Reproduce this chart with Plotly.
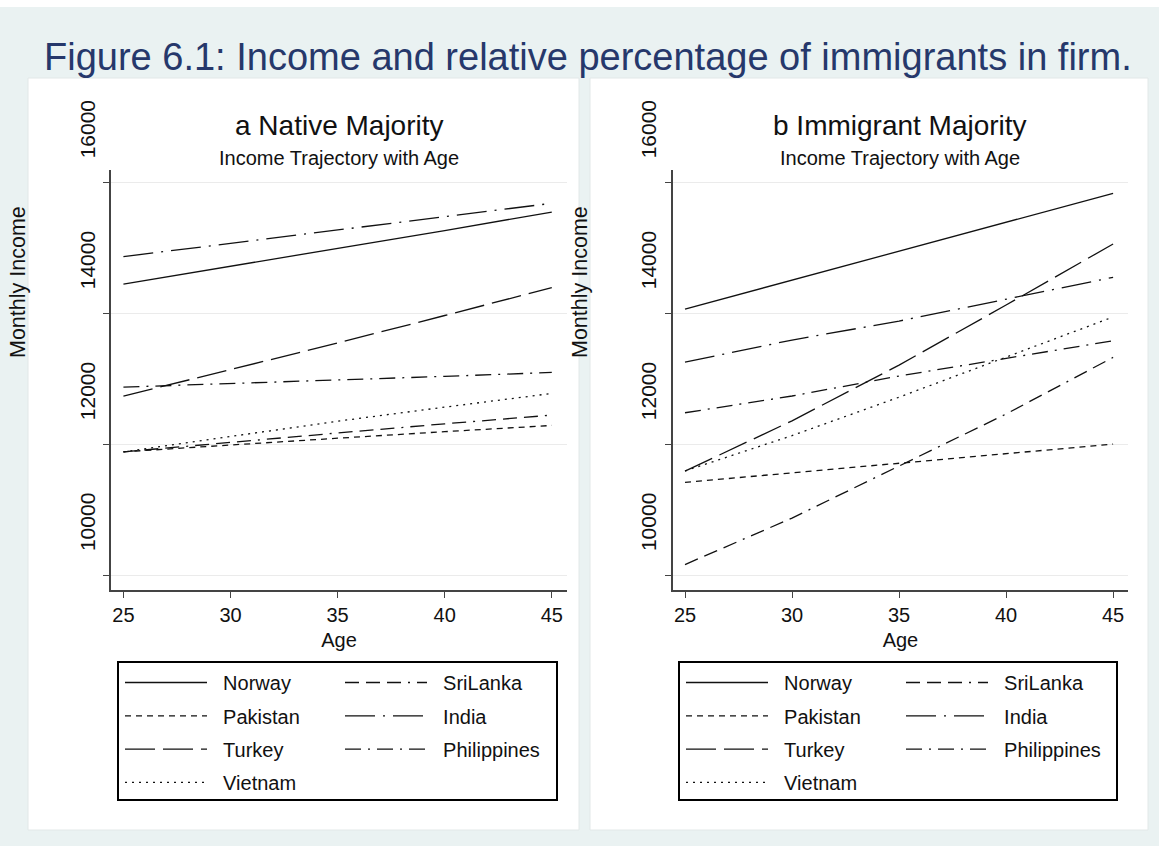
import plotly.graph_objects as go

W, H = 1159, 846

ages = [25, 30, 35, 40, 45]
x_ticks = [25, 30, 35, 40, 45]
y_ticks = [10000, 12000, 14000, 16000]
y_tick_labels = ["10000", "12000", "14000", "16000"]

countries_col1 = ["Norway", "Pakistan", "Turkey", "Vietnam"]
countries_col2 = ["SriLanka", "India", "Philippines"]

# Panel a: Native Majority
native_norway = [14446, 14715, 14985, 15262, 15546]
native_pakistan = [11882, 11990, 12090, 12190, 12285]
native_turkey = [12733, 13140, 13545, 13965, 14390]
native_vietnam = [11882, 12120, 12350, 12565, 12774]
native_srilanka = [11882, 12030, 12170, 12310, 12443]
native_india = [14864, 15068, 15272, 15475, 15679]
native_philippines = [12871, 12925, 12975, 13035, 13095]

# Panel b: Immigrant Majority
immig_norway = [14063, 14505, 14948, 15390, 15832]
immig_pakistan = [11415, 11560, 11715, 11860, 12000]
immig_turkey = [11587, 12356, 13207, 14125, 15057]
immig_vietnam = [11590, 12130, 12717, 13327, 13942]
immig_srilanka = [10160, 10870, 11665, 12460, 13325]
immig_india = [13253, 13590, 13880, 14210, 14548]
immig_philippines = [12479, 12735, 13040, 13310, 13579]

native = {"Norway": native_norway, "Pakistan": native_pakistan, "Turkey": native_turkey,
          "Vietnam": native_vietnam, "SriLanka": native_srilanka, "India": native_india,
          "Philippines": native_philippines}
immig = {"Norway": immig_norway, "Pakistan": immig_pakistan, "Turkey": immig_turkey,
         "Vietnam": immig_vietnam, "SriLanka": immig_srilanka, "India": immig_india,
         "Philippines": immig_philippines}

dashes = {
    "Norway": "solid",
    "Pakistan": "6px,5px",
    "Turkey": "30px,8px",
    "Vietnam": "2px,5px",
    "SriLanka": "14px,7px,14px,7px,14px,7px,2px,7px",
    "India": "30px,8px,2px,8px",
    "Philippines": "16px,7px,2px,7px",
}

FONT = "Liberation Sans, Arial, sans-serif"
LINE_COLOR = "#111111"
PAD = "\u00a0\u00a0"

def px(x):
    return x / W

def py(y):
    return 1 - y / H

fig = go.Figure()

for panel, data, xa, ya, legs in [("a", native, "x", "y", ("legend", "legend2")),
                                  ("b", immig, "x2", "y2", ("legend3", "legend4"))]:
    for c in countries_col1 + countries_col2:
        leg = legs[0] if c in countries_col1 else legs[1]
        fig.add_trace(go.Scatter(
            x=ages, y=data[c], mode="lines", name=PAD + c,
            line=dict(color=LINE_COLOR, width=1.3, dash=dashes[c]),
            xaxis=xa, yaxis=ya, legend=leg, legendgroup=panel + c,
            showlegend=True, hovertemplate=c + ": %{y}<extra></extra>",
        ))

xrange = [24.42, 45.71]
yrange = [9771, 16188]
ydom = [py(590), py(170)]

axis_common = dict(showline=True, linecolor="#444444", linewidth=1.5, ticks="outside",
                   ticklen=6, tickcolor="#444444", zeroline=False, automargin=False)
xfont = dict(family=FONT, size=20, color="#111111")
yfont = dict(family=FONT, size=21, color="#111111")

fig.update_layout(
    width=W, height=H,
    margin=dict(l=0, r=0, t=0, b=0, autoexpand=False),
    paper_bgcolor="#EAF2F2",
    plot_bgcolor="#FFFFFF",
    font=dict(family=FONT, size=20, color="#111111"),
    xaxis=dict(domain=[px(111), px(567)], range=xrange, tickvals=x_ticks, showgrid=False,
               anchor="y", tickfont=xfont,
               title=dict(text="Age", font=dict(size=20), standoff=8), **axis_common),
    yaxis=dict(domain=ydom, range=yrange, tickvals=y_ticks, ticktext=y_tick_labels,
               tickangle=-90, ticklabelshift=-50, showgrid=True, gridcolor="#EBEBEB",
               anchor="x", tickfont=yfont, **axis_common),
    xaxis2=dict(domain=[px(672.6), px(1128.3)], range=xrange, tickvals=x_ticks, showgrid=False,
                anchor="y2", tickfont=xfont,
                title=dict(text="Age", font=dict(size=20), standoff=8), **axis_common),
    yaxis2=dict(domain=ydom, range=yrange, tickvals=y_ticks, ticktext=y_tick_labels,
                tickangle=-90, ticklabelshift=-50, showgrid=True, gridcolor="#EBEBEB",
                anchor="x2", tickfont=yfont, **axis_common),
    showlegend=True,
)

leg_common = dict(bgcolor="rgba(0,0,0,0)", borderwidth=0, font=dict(family=FONT, size=20, color="#111111"),
                  itemwidth=82, tracegroupgap=4.3, traceorder="grouped", orientation="v",
                  xanchor="left", yanchor="top", itemclick=False, itemdoubleclick=False)
fig.update_layout(
    legend=dict(x=px(120), y=py(663), **leg_common),
    legend2=dict(x=px(340), y=py(663), **leg_common),
    legend3=dict(x=px(681), y=py(663), **leg_common),
    legend4=dict(x=px(901), y=py(663), **leg_common),
)

shapes = [
    dict(type="rect", xref="paper", yref="paper", x0=0, x1=1, y0=py(7), y1=1,
         fillcolor="#FFFFFF", line=dict(width=0), layer="below"),
    dict(type="rect", xref="paper", yref="paper", x0=px(28), x1=px(579), y0=py(830), y1=py(78),
         fillcolor="#FFFFFF", line=dict(color="#E2E8E8", width=1), layer="below"),
    dict(type="rect", xref="paper", yref="paper", x0=px(590), x1=px(1148), y0=py(830), y1=py(78),
         fillcolor="#FFFFFF", line=dict(color="#E2E8E8", width=1), layer="below"),
    dict(type="rect", xref="paper", yref="paper", x0=px(118), x1=px(557), y0=py(800), y1=py(662),
         fillcolor="rgba(0,0,0,0)", line=dict(color="#000000", width=2)),
    dict(type="rect", xref="paper", yref="paper", x0=px(679), x1=px(1117), y0=py(800), y1=py(662),
         fillcolor="rgba(0,0,0,0)", line=dict(color="#000000", width=2)),
]
fig.update_layout(shapes=shapes)

annotations = [
    dict(text="Figure 6.1: Income and relative percentage of immigrants in firm.",
         x=px(588), y=py(57), xref="paper", yref="paper", xanchor="center", yanchor="middle",
         showarrow=False, font=dict(family=FONT, size=38, color="#26386B")),
    dict(text="a Native Majority", x=px(339), y=py(125), xref="paper", yref="paper",
         xanchor="center", yanchor="middle", showarrow=False, font=dict(family=FONT, size=28)),
    dict(text="Income Trajectory with Age", x=px(339), y=py(158), xref="paper", yref="paper",
         xanchor="center", yanchor="middle", showarrow=False, font=dict(family=FONT, size=20)),
    dict(text="b Immigrant Majority", x=px(900), y=py(125), xref="paper", yref="paper",
         xanchor="center", yanchor="middle", showarrow=False, font=dict(family=FONT, size=28)),
    dict(text="Income Trajectory with Age", x=px(900), y=py(158), xref="paper", yref="paper",
         xanchor="center", yanchor="middle", showarrow=False, font=dict(family=FONT, size=20)),
    dict(text="Monthly Income", x=px(18), y=py(282), xref="paper", yref="paper", textangle=-90,
         xanchor="center", yanchor="middle", showarrow=False, font=dict(family=FONT, size=21.5)),
    dict(text="Monthly Income", x=px(580), y=py(282), xref="paper", yref="paper", textangle=-90,
         xanchor="center", yanchor="middle", showarrow=False, font=dict(family=FONT, size=21.5)),
]
fig.update_layout(annotations=annotations)

fig.write_html("out.html")
